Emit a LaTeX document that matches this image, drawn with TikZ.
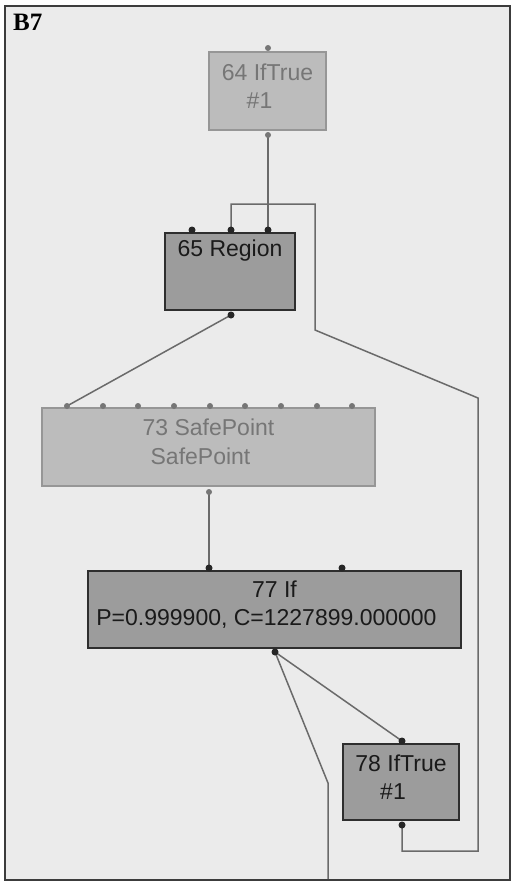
\documentclass[tikz,border=0pt]{standalone}
\usepackage{fontspec}
\setmainfont{Liberation Sans}
\newfontfamily\labelfont{Liberation Serif}
\definecolor{bgc}{HTML}{EBEBEB}
\definecolor{framec}{HTML}{3C3C3C}
\definecolor{lightfill}{HTML}{BCBCBC}
\definecolor{lightdraw}{HTML}{969696}
\definecolor{lighttext}{HTML}{767676}
\definecolor{darkfill}{HTML}{9C9C9C}
\definecolor{darkdraw}{HTML}{2E2E2E}
\definecolor{darktext}{HTML}{1A1A1A}
\definecolor{edgec}{HTML}{6A6A6A}
\tikzset{
  lightbox/.style={rectangle, draw=lightdraw, fill=lightfill, line width=1.5pt, inner sep=0pt},
  darkbox/.style={rectangle, draw=darkdraw, fill=darkfill, line width=1.5pt, inner sep=0pt},
  edge/.style={draw=edgec, line width=1.5pt},
  dkdot/.style={fill=black!85},
  ltdot/.style={fill=lighttext},
  txt/.style={font=\fontsize{23}{28.5}\selectfont, align=center, inner sep=0pt},
  lighttxt/.style={txt, text=lighttext},
  darktxt/.style={txt, text=darktext}
}
\newcommand{\pad}{\hspace*{16pt}}
\begin{document}
\begin{tikzpicture}[x=1pt,y=-1pt]
\useasboundingbox (0,0) rectangle (512,883);
\fill[white] (0,0) rectangle (512,883);
\draw[framec, fill=bgc, line width=2pt] (5,6) rectangle (510,880);
\node[anchor=north west, inner sep=0pt, font=\labelfont\bfseries\fontsize{25}{28}\selectfont] (b7) at (13,14) {B7};

% boxes
\node[lightbox, minimum width=117, minimum height=78] (n64) at (267.5,91) {};
\node[lighttxt] (t64) at ([yshift=5pt]n64.center) {64 IfTrue\\\#1\pad};
\node[darkbox, minimum width=130, minimum height=77] (n65) at (230,271.5) {};
\node[darktxt] (t65) at (230,251) {65 Region};
\node[lightbox, minimum width=333, minimum height=78] (n73) at (208.5,447) {};
\node[lighttxt] (t73) at ([yshift=5pt]n73.center) {73 SafePoint\\SafePoint\pad};
\node[darkbox, minimum width=373, minimum height=77] (n77) at (274.5,609.5) {};
\node[darktxt] (t77) at ([yshift=5pt]n77.center) {77 If\\P=0.999900, C=1227899.000000\pad};
\node[darkbox, minimum width=116, minimum height=76] (n78) at (401,782) {};
\node[darktxt] (t78) at ([yshift=5pt]n78.center) {78 IfTrue\\\#1\pad};

% ports
\coordinate (p64a) at (268,48);
\coordinate (p64b) at (268,135);
\coordinate (p65a) at (192,230);
\coordinate (p65b) at (231,230);
\coordinate (p65c) at (268,230);
\coordinate (p65d) at (231,315);
\foreach \i/\x in {1/67,2/103,3/138,4/174,5/210,6/245,7/281,8/317,9/352} {
  \coordinate (p73t\i) at (\x,406);
}
\coordinate (p73b) at (209,492);
\coordinate (p77a) at (209,568);
\coordinate (p77b) at (342,568);
\coordinate (p77c) at (275,652);
\coordinate (p78a) at (402,741);
\coordinate (p78b) at (402,825);

% bends
\coordinate (c1) at (315,204);
\coordinate (c2) at (315,330);
\coordinate (c3) at (478,398);
\coordinate (c4) at (478,851);
\coordinate (c5) at (328,783);
\coordinate (c6) at (328,879);

% edges
\draw[edge] (p64b) -- (p65c);
\draw[edge] (p65b) |- (c1) -- (c2) -- (c3) -- (c4) -| (p78b);
\draw[edge] (p65d) -- (p73t1);
\draw[edge] (p73b) -- (p77a);
\draw[edge] (p77c) -- (p78a);
\draw[edge] (p77c) -- (c5) -- (c6);

% dots
\foreach \p in {p64a,p64b,p73b} { \fill[ltdot] (\p) circle (3); }
\foreach \i in {1,...,9} { \fill[ltdot] (p73t\i) circle (3); }
\foreach \p in {p65a,p65b,p65c,p65d,p77a,p77b,p77c,p78a,p78b} { \fill[dkdot] (\p) circle (3.5); }
\end{tikzpicture}
\end{document}
